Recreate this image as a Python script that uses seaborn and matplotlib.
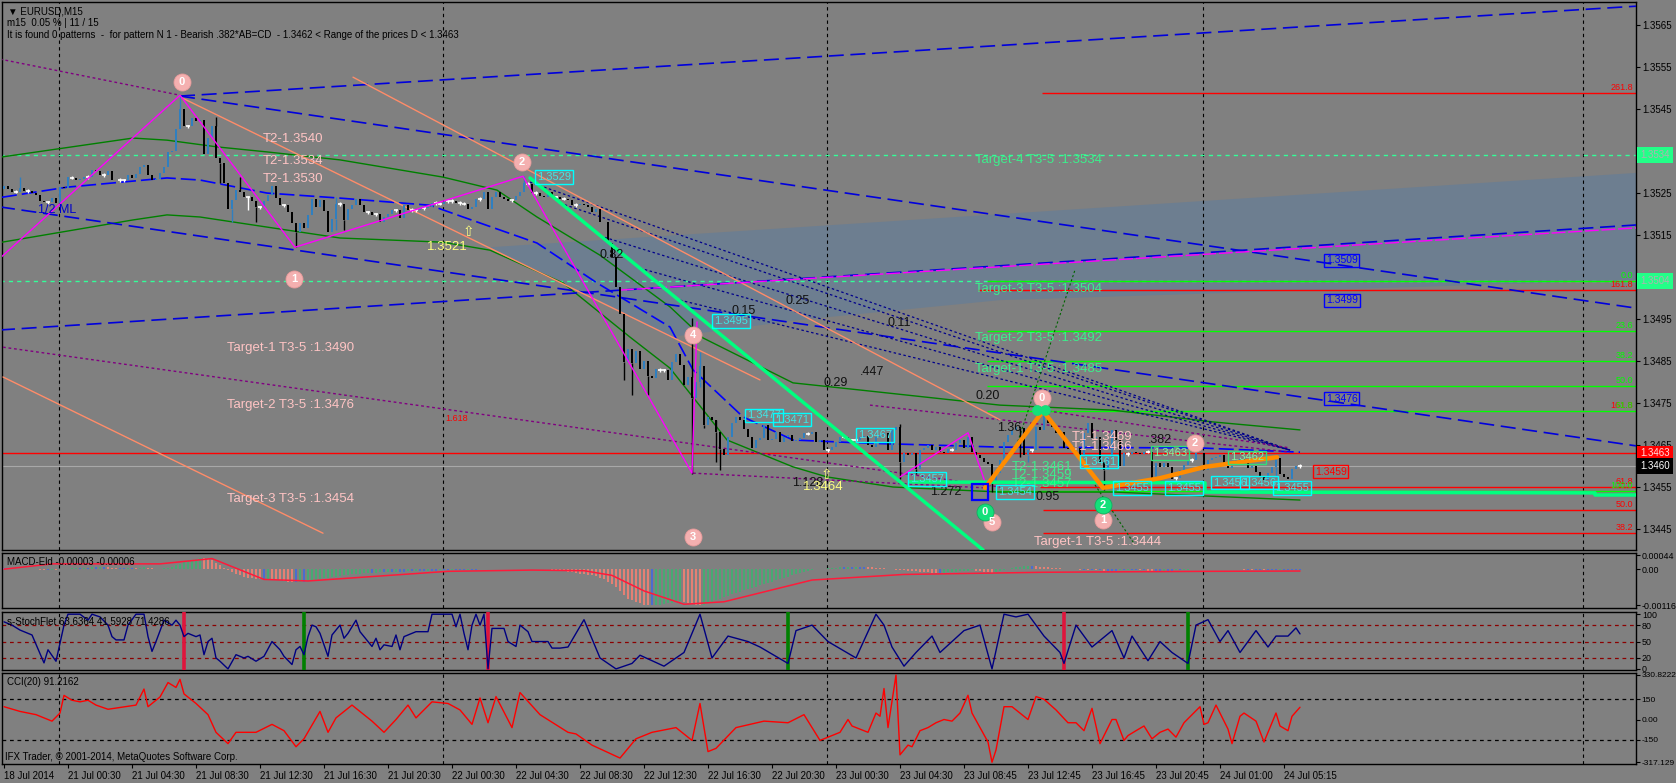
import matplotlib
matplotlib.use("Agg")
import matplotlib.pyplot as plt
import matplotlib.transforms as mtransforms
from matplotlib.patches import Rectangle, Polygon
from matplotlib.ticker import FormatStrFormatter
import seaborn as sns
import numpy as np

sns.set_theme(style="dark")
plt.rcParams['font.family'] = ['Liberation Sans', 'DejaVu Sans']
plt.rcParams['axes.unicode_minus'] = False

W, H = 1676, 783
BG = '#808080'

# ---------------- price data: EURUSD M15 closes ----------------
first_open = 1.35260
closes = [
    1.35268, 1.35260, 1.35253, 1.35253, 1.35262, 1.35254, 1.35255, 1.35250, 1.35246, 1.35230,
    1.35228, 1.35228, 1.35239, 1.35226, 1.35264, 1.35261, 1.35288, 1.35287, 1.35281, 1.35283,
    1.35289, 1.35288, 1.35305, 1.35303, 1.35294, 1.35293, 1.35303, 1.35282, 1.35280, 1.35281,
    1.35280, 1.35293, 1.35285, 1.35296, 1.35313, 1.35316, 1.35292, 1.35282, 1.35284, 1.35297,
    1.35312, 1.35348, 1.35351, 1.35403, 1.35450, 1.35410, 1.35409, 1.35428, 1.35421, 1.35425,
    1.35342, 1.35380, 1.35410, 1.35334, 1.35322, 1.35274, 1.35212, 1.35234, 1.35258, 1.35252,
    1.35241, 1.35240, 1.35231, 1.35217, 1.35216, 1.35230, 1.35246, 1.35266, 1.35238, 1.35222,
    1.35221, 1.35204, 1.35178, 1.35158, 1.35178, 1.35166, 1.35197, 1.35237, 1.35216, 1.35234,
    1.35208, 1.35158, 1.35188, 1.35223, 1.35224, 1.35186, 1.35213, 1.35221, 1.35237, 1.35222,
    1.35205, 1.35204, 1.35198, 1.35199, 1.35182, 1.35194, 1.35199, 1.35210, 1.35209, 1.35190,
    1.35221, 1.35209, 1.35210, 1.35209, 1.35213, 1.35214, 1.35218, 1.35227, 1.35226, 1.35225,
    1.35229, 1.35230, 1.35231, 1.35226, 1.35226, 1.35225, 1.35213, 1.35218, 1.35237, 1.35236,
    1.35253, 1.35213, 1.35241, 1.35253, 1.35241, 1.35237, 1.35232, 1.35233, 1.35244, 1.35253,
    1.35273, 1.35272, 1.35249, 1.35250, 1.35244, 1.35241, 1.35252, 1.35241, 1.35240, 1.35236,
    1.35237, 1.35233, 1.35221, 1.35222, 1.35224, 1.35221, 1.35218, 1.35205, 1.35211, 1.35182,
    1.35180, 1.35130, 1.35098, 1.35027, 1.34963, 1.34848, 1.34878, 1.34846, 1.34874, 1.34830,
    1.34850, 1.34814, 1.34810, 1.34830, 1.34829, 1.34828, 1.34805, 1.34848, 1.34866, 1.34840,
    1.34793, 1.34813, 1.34761, 1.34800, 1.34837, 1.34698, 1.34717, 1.34710, 1.34682, 1.34640,
    1.34626, 1.34670, 1.34702, 1.34717, 1.34710, 1.34688, 1.34670, 1.34642, 1.34662, 1.34666,
    1.34698, 1.34662, 1.34664, 1.34682, 1.34658, 1.34670, 1.34674, 1.34660, 1.34662, 1.34666,
    1.34678, 1.34677, 1.34682, 1.34658, 1.34662, 1.34638, 1.34637, 1.34646, 1.34658, 1.34670,
    1.34670, 1.34662, 1.34661, 1.34662, 1.34668, 1.34672, 1.34650, 1.34646, 1.34670, 1.34674,
    1.34678, 1.34638, 1.34686, 1.34692, 1.34610, 1.34630, 1.34626, 1.34630, 1.34594, 1.34638,
    1.34642, 1.34650, 1.34638, 1.34646, 1.34634, 1.34630, 1.34640, 1.34639, 1.34654, 1.34662,
    1.34642, 1.34670, 1.34634, 1.34626, 1.34618, 1.34610, 1.34604, 1.34560, 1.34583, 1.34614,
    1.34658, 1.34674, 1.34686, 1.34694, 1.34690, 1.34626, 1.34638, 1.34637, 1.34694, 1.34686,
    1.34725, 1.34702, 1.34694, 1.34678, 1.34682, 1.34642, 1.34640, 1.34645, 1.34642, 1.34626,
    1.34678, 1.34702, 1.34666, 1.34670, 1.34610, 1.34590, 1.34622, 1.34685, 1.34662, 1.34600,
    1.34630, 1.34629, 1.34634, 1.34630, 1.34628, 1.34634, 1.34634, 1.34563, 1.34606, 1.34598,
    1.34606, 1.34597, 1.34570, 1.34571, 1.34590, 1.34602, 1.34615, 1.34614, 1.34630, 1.34632,
    1.34590, 1.34614, 1.34618, 1.34621, 1.34626, 1.34599, 1.34595, 1.34611, 1.34615, 1.34617,
    1.34614, 1.34595, 1.34600, 1.34585, 1.34575, 1.34567, 1.34584, 1.34598, 1.34618, 1.34580,
    1.34575, 1.34570, 1.34594, 1.34600, 1.34600,
]
# visible wick extremes (bar index -> price)
wick_high = {4: 1.35289, 44: 1.35483, 53: 1.35432, 59: 1.35289, 63: 1.35229, 83: 1.35241,
             130: 1.35290, 172: 1.34952, 174: 1.34872, 178: 1.34686, 224: 1.34701,
             254: 1.34690, 261: 1.34729, 318: 1.34626}
wick_low = {54: 1.35273, 57: 1.35182, 61: 1.35210, 63: 1.35182, 73: 1.35122, 83: 1.35162,
            85: 1.35162, 155: 1.34805, 157: 1.34769, 161: 1.34769, 172: 1.34582, 174: 1.34789,
            175: 1.34690, 178: 1.34610, 179: 1.34590, 224: 1.34570, 228: 1.34582, 247: 1.34539,
            254: 1.34622, 256: 1.34610, 275: 1.34543, 287: 1.34559, 318: 1.34575}

time_ticks = [0, 16, 32, 48, 64, 80, 96, 112, 128, 144, 160, 176, 192, 208, 224, 240, 256,
              272, 288, 304, 320]
time_labels = ['18 Jul 2014', '21 Jul 00:30', '21 Jul 04:30', '21 Jul 08:30', '21 Jul 12:30',
               '21 Jul 16:30', '21 Jul 20:30', '22 Jul 00:30', '22 Jul 04:30', '22 Jul 08:30',
               '22 Jul 12:30', '22 Jul 16:30', '22 Jul 20:30', '23 Jul 00:30', '23 Jul 04:30',
               '23 Jul 08:45', '23 Jul 12:45', '23 Jul 16:45', '23 Jul 20:45', '24 Jul 01:00',
               '24 Jul 05:15']
day_breaks = [13.75, 109.75, 205.75, 299.75, 394.75]
price_ticks = [1.3445, 1.3455, 1.3465, 1.3475, 1.3485, 1.3495, 1.3505, 1.3515, 1.3525,
               1.3535, 1.3545, 1.3555, 1.3565]

# ---------------- indicators ----------------
macd_hist = [  # units of 1e-5
    3, 2, 2, 1, 2, 1, 1, 0, -1, -2, -3, -3, -2, -3,
    -1, 0, 2, 3, 4, 4, 5, 5, 6, 6, 7, 7, 6, 5, 4, 4, 4, 5, 5, 4, 5, 6, 5, 3, 2, 2, 3, 5,
    8, 12, 18, 24, 28, 31, 34, 36, 35, 32, 28,
    20, 12, 4, -4, -10, -16, -20, -24, -27, -30, -32,
    -33, -33, -32, -33, -34,
    -36, -38, -40, -41, -41, -40, -40, -39,
    -37, -36,
    -33, -30, -28, -26, -24, -22, -20, -18, -16, -15,
    -14, -13, -12, -12, -11, -10, -10, -9, -9, -8, -8, -8,
    -7, -7, -6, -6, -6, -5, -5, -5, -4, -4, -4, -3, -3, -3, -3, -2, -2, -2, -1, -1,
    -1, -1, -1, 0, 0, 1, 1, 1, 2, 2, 2, 2, 1, 1, 0, -1, -2, -3, -4, -6,
    -8, -10, -12, -14, -16, -18, -20, -23, -27, -32,
    -40, -48, -58, -70, -84, -95, -100, -106, -110, -114,
    -116, -116, -115, -114, -112, -110, -108, -105, -104, -106, -110, -112, -115, -116, -114,
    -110, -105, -100, -95, -90, -85, -80, -76, -72, -68, -64, -60, -56, -52, -48, -44, -40,
    -36, -32, -28, -24, -20, -16, -12, -9, -6, -3,
    -1, 1, 2, 3, 4, 5, 6, 6, 7, 7, 8, 8, 8, 7, 6, 5, 4, 3, 2, 0, -2, -3, -4, -5, -6, -7, -8, -9,
    -10, -11, -12, -12, -11, -10, -9, -8, -7, -6, -5, -4, -5, -6, -8, -10, -11, -9, -6, -3,
    0, 3, 6, 8, 9, 10, 10, 9, 8, 7,
    6, 5, 4, 3, 2, 1, 0, -1, -2, -2, -3, -3, -4, -4, -5, -5, -5, -5, -4, -4, -3, -3, -3, -4,
    -4, -5, -6, -6, -6, -5,
    -5, -5, -4, -4, -3, -2, -1, 0, 1, 1, 2, 2, 2, 1, 1, 0, 0, -1, -1, -2, -2, -3, -3, -3, -4,
    -4, -4, -4, -3, -3, -3, -3, -3, -3,
]
macd_sig_bar = [0, 12, 39, 52, 65, 76, 111, 132, 145, 152, 160, 170, 180, 202, 225, 260, 300, 324]
macd_sig_val = [0, 17, 17, 34, -33, -38, -7, -3, -5, -20, -70, -113, -105, -35, -17, -10, -7, -6]

stoch_bar = [0, 2, 4, 7, 10, 11, 13, 14, 15, 16, 19, 21, 22, 24, 26, 27, 28, 30, 31, 33, 35, 36,
             37, 38, 40, 42, 43, 44, 45, 46, 48, 49, 50, 51, 52, 53, 54, 56, 58, 60, 61, 63, 65,
             67, 69, 70, 72, 73, 74, 75, 76, 77, 78, 79, 81, 82, 84, 85, 86, 88, 89, 91, 92, 93,
             94, 95, 97, 98, 99, 100, 103, 106, 107, 112, 113, 114, 115, 116, 117, 118, 119,
             120, 121, 122, 125, 126, 128, 129, 131, 132, 136, 137, 139, 141, 145, 149, 153,
             157, 159, 165, 170, 174, 177, 181, 186, 189, 196, 198, 202, 206, 213, 218, 220,
             222, 225, 228, 232, 234, 240, 244, 247, 250, 253, 256, 260, 264, 265, 268, 272,
             277, 280, 282, 286, 289, 292, 296, 298, 301, 304, 306, 309, 313, 316, 318, 321,
             323, 324]
stoch_val = [86, 80, 71, 62, 11, 35, 14, 47, 80, 100, 100, 89, 100, 95, 80, 59, 53, 53, 80, 100,
             100, 59, 32, 50, 89, 80, 89, 80, 59, 65, 59, 62, 26, 50, 56, 20, 14, 0, 26, 20, 23,
             14, 23, 50, 35, 23, 8, 35, 41, 26, 59, 80, 77, 65, 23, 62, 80, 56, 65, 89, 68, 50,
             41, 56, 35, 44, 41, 62, 35, 59, 68, 68, 100, 100, 77, 100, 65, 35, 80, 100, 80, 100,
             0, 74, 74, 50, 41, 80, 68, 50, 50, 38, 38, 40, 90, 20, 0, 10, 25, 5, 30, 100, 20,
             60, 50, 40, 10, 70, 80, 50, 20, 100, 80, 40, 5, 30, 60, 30, 70, 80, 0, 100, 95,
             100, 60, 30, 10, 80, 40, 70, 20, 60, 15, 50, 30, 10, 80, 90, 50, 70, 30, 70, 40,
             60, 60, 75, 64]
stoch_red_marks = [45, 121, 265]
stoch_green_marks = [75, 196, 296]

cci_bar = [0, 4, 8, 12, 14, 15, 17, 19, 21, 23, 26, 33, 35, 36, 39, 41, 43, 44, 45, 48, 51, 53,
           56, 58, 63, 67, 70, 73, 75, 79, 81, 83, 87, 92, 95, 98, 101, 103, 107, 111, 114, 117,
           119, 121, 123, 127, 129, 134, 141, 143, 147, 154, 158, 162, 168, 172, 174, 176, 178,
           183, 190, 196, 200, 204, 206, 209, 211, 212, 216, 218, 219, 220, 221, 223, 224, 226,
           227, 229, 231, 233, 235, 237, 239, 241, 242, 246, 247, 248, 250, 252, 256, 258, 260,
           263, 266, 268, 270, 272, 274, 277, 278, 280, 281, 283, 285, 287, 289, 291, 293, 295,
           299, 300, 301, 303, 306, 307, 309, 310, 313, 315, 318, 319, 321, 322, 324]
cci_val = [95, 60, 36, -12, 48, 179, 143, 131, 143, 107, 76, 107, 226, 95, 167, 274, 238, 298,
           190, 119, 36, -95, -179, -95, -95, -36, -83, -202, -143, 60, -95, 12, 107, -12, -95,
           0, 107, 12, 131, 119, 71, -36, 160, -24, 170, -60, 200, 36, -95, -107, -190, -286,
           -143, -95, -60, -155, 119, -238, -214, -60, -12, -24, 36, -155, -131, -95, 0, -48,
           -95, 48, 24, 230, -60, 330, -262, -190, -202, -83, -60, -24, 0, -12, 48, 180, 48,
           -167, -317, -226, 95, 95, 0, 170, 150, 71, -24, -24, -83, 83, -179, 0, 0, -155,
           -119, -83, -48, -143, -95, -71, -131, -24, 95, -36, -24, 107, -71, -179, 24, 48,
           -12, -167, 48, -48, -83, 24, 91]

# ---------------- chart objects (bar index, price) ----------------
ma_up_bar = [-0.5, 32.25, 40.75, 53.25, 65.75, 84, 109.75, 123.25, 133.25, 149, 166.5, 174.75,
             197.25, 214, 249, 277.25, 302.25, 324]
ma_up_val = [1.35336, 1.35381, 1.35376, 1.35360, 1.35348, 1.35329, 1.35288, 1.35257, 1.35193,
             1.35102, 1.34979, 1.34905, 1.34798, 1.34781, 1.34745, 1.34733, 1.34705, 1.34686]
ma_dn_bar = [-0.5, 32.25, 40.75, 49, 65.75, 84, 109.75, 121.5, 139.75, 156.5, 166.5, 180.75,
             197.25, 205.75, 222.25, 249, 277.25, 324]
ma_dn_val = [1.35133, 1.35186, 1.35198, 1.35193, 1.35169, 1.35143, 1.35133, 1.35114, 1.35036,
             1.34907, 1.34833, 1.34662, 1.34598, 1.34574, 1.34550, 1.34538, 1.34538, 1.34519]
ma_blue_bar = [-0.5, 15.75, 40.75, 49, 65.75, 84, 106.5, 114.75, 133.25, 148.25, 166.5, 172.25,
               184.75, 197.25, 214, 249, 299, 324]
ma_blue_val = [1.35240, 1.35264, 1.35286, 1.35281, 1.35250, 1.35238, 1.35221, 1.35193, 1.35131,
               1.35036, 1.34931, 1.34829, 1.34717, 1.34662, 1.34655, 1.34645, 1.34643, 1.34633]

blue_lines = [((44, 1.35481), (408, 1.35695)), ((44, 1.35481), (408, 1.34976)),
              ((-1, 1.35217), (408, 1.34648)), ((-1, 1.34924), (408, 1.35174))]
fan_starts = [(131.5, 1.35276), (139, 1.35226), (149, 1.35148), (159, 1.35071), (169, 1.34995)]
fan_end = (321.5, 1.34638)
purple_lines = [((-0.25, 1.34883), (249, 1.34550)), ((-1, 1.35569), (44, 1.35483)),
                ((172.25, 1.34583), (245.25, 1.34548)), ((216.5, 1.34745), (321.5, 1.34633)),
                ((259.75, 1.34733), (321.5, 1.34643))]
salmon_lines = [((-0.25, 1.34812), (79.75, 1.34440)), ((44, 1.35479), (189, 1.34805)),
                ((87.25, 1.35526), (249, 1.34710))]
zigzag_bar = [-1, 44, 72.75, 129.75, 172, 173.25]
zigzag_val = [1.35095, 1.35483, 1.35121, 1.35290, 1.34583, 1.34943]
zigzag2_bar = [224, 241, 245.75]
zigzag2_val = [1.34574, 1.34679, 1.34548]
magenta_line = ((154, 1.35019), (408, 1.35167))
orange_bar = [245.25, 259.75, 274.75, 289, 300.25, 318.25]
orange_val = [1.34548, 1.34731, 1.34548, 1.34571, 1.34598, 1.34621]
spring_line = ((131.5, 1.35286), (244.75, 1.34400))
spring_h_bar = [226.5, 300.25, 300.25, 397.75, 397.75, 408]
spring_h_val = [1.34562, 1.34560, 1.34538, 1.34536, 1.34531, 1.34531]
dkgreen_lines = [((252.75, 1.34638), (267.75, 1.35067)), ((272.75, 1.34555), (282.75, 1.34412))]
shade_bar = [121.5, 408, 408, 249, 199, 166.5]
shade_val = [1.35121, 1.35298, 1.35043, 1.34995, 1.34948, 1.34907]

# horizontal levels: price, start bar, colour, style, width
levels = [(1.3463, -1, '#ff0000', '-', 1.0), (1.3460, -1, '#a8a8a8', '-', 0.8),
          (1.3534, -1, '#33ff99', (0, (3, 3)), 1.0), (1.3504, -1, '#33ff99', (0, (3, 3)), 1.0),
          (1.35488, 259.5, '#ff0000', '-', 1.0), (1.35019, 243.5, '#ff0000', '-', 1.0),
          (1.3455, 259.0, '#ff0000', '-', 1.0), (1.34495, 259.75, '#ff0000', '-', 1.0),
          (1.3444, 259.75, '#ff0000', '-', 1.0),
          (1.3504, 245.75, '#00ff00', '-', 1.0), (1.34921, 245.75, '#00ff00', '-', 1.0),
          (1.3485, 245.75, '#00ff00', '-', 1.0), (1.3479, 245.75, '#00ff00', '-', 1.0),
          (1.34731, 245.75, '#00ff00', '-', 1.0), (1.3454, 245.75, '#00ff00', '-', 1.0)]
fib_texts = [('261.8', 1.35488, '#ff0000'), ('161.8', 1.35019, '#ff0000'), ('0.0', 1.3504, '#00ff00'),
             ('23.6', 1.34921, '#00ff00'), ('38.2', 1.3485, '#00ff00'), ('50.0', 1.3479, '#00ff00'),
             ('161.8', 1.34731, '#ff0000'), ('61.8', 1.34731, '#00ff00'), ('61.8', 1.3455, '#ff0000'),
             ('100.0', 1.3454, '#00ff00'), ('50.0', 1.34495, '#ff0000'), ('38.2', 1.3444, '#ff0000')]

pink_texts = [('T2-1.3540', 64.75, 1.35379), ('T2-1.3534', 64.75, 1.35326), ('T2-1.3530', 64.75, 1.35283),
              ('Target-1 T3-5 :1.3490', 55.75, 1.34881), ('Target-2 T3-5 :1.3476', 55.75, 1.34745),
              ('Target-3 T3-5 :1.3454', 55.75, 1.34521), ('Target-1 T3-5 :1.3444', 257.5, 1.34419)]
green_texts = [('Target-4 T3-5 :1.3534', 242.75, 1.35329), ('Target-3 T3-5 :1.3504', 242.75, 1.35021),
               ('Target-2 T3-5 :1.3492', 242.75, 1.34905), ('Target-1 T3-5 :1.3485', 242.75, 1.34831)]
small_pink = [('T1-1.3469', 267, 1.34669), ('T1-1.3466', 267, 1.34645)]
small_green = [('T2-1.3461', 252, 1.34598), ('T2-1.3459', 252, 1.34579), ('T2-1.3457', 252, 1.34557)]
black_texts = [('0.82', 149, 1.35102), ('0.15', 182, 1.34969), ('0.25', 195.5, 1.34993),
               ('0.11', 220.75, 1.34940), ('0.29', 204.75, 1.34798), ('.447', 214, 1.34824),
               ('0.20', 242.75, 1.34767), ('1.36', 248.25, 1.34690), ('1.272', 231.5, 1.34538),
               ('0.95', 258, 1.34526), ('.382', 286, 1.34662), ('1.128', 197, 1.34560)]
cyan_boxes = [('1.3529', 133.25, 1.35288), ('1.3495', 177.5, 1.34945), ('1.3477', 185.75, 1.34721),
              ('1.3471', 192.75, 1.34710), ('1.3467', 213.5, 1.34674), ('1.3457', 226.5, 1.34569),
              ('1.3454', 248.5, 1.34538), ('1.3461', 269.5, 1.34610), ('1.3455', 277.75, 1.34548),
              ('1.3455', 290.75, 1.34548), ('1.3456', 302.25, 1.34560), ('1.3456', 309.5, 1.34560),
              ('1.3455', 317.75, 1.34548)]
green_boxes = [('1.3463', 287.25, 1.34631), ('1.3462', 306.5, 1.34621)]
blue_boxes = [('1.3509', 330.5, 1.35090), ('1.3499', 330.5, 1.34995), ('1.3476', 330.5, 1.34760)]
pink_circles = [('0', 44.5, 1.35514), ('1', 72.5, 1.35045), ('2', 129.5, 1.35324), ('3', 172.25, 1.34431),
                ('4', 172.25, 1.34912), ('5', 247, 1.34466), ('0', 259.5, 1.34762), ('1', 274.75, 1.34471),
                ('2', 297.75, 1.34655)]
green_circles = [('0', 245.25, 1.34490), ('2', 274.75, 1.34507)]
axis_tags = [('1.3534', 1.3534, '#22ff88', '#b0b0b0'), ('1.3504', 1.3504, '#22ff88', '#b0b0b0'),
             ('1.3463', 1.3463, '#ff0000', '#ffe0e0'), ('1.3460', 1.3460, '#000000', '#ffffff')]

# ---------------- figure ----------------
fig = plt.figure(figsize=(W / 100, H / 100), dpi=100, facecolor=BG)


def panel(top, bottom, lsize=7):
    ax = fig.add_axes([2 / W, 1 - bottom / H, 1634 / W, (bottom - top) / H])
    ax.set_facecolor(BG)
    for s in ax.spines.values():
        s.set_visible(True)
        s.set_color('black')
        s.set_linewidth(1.0)
    ax.set_xlim(-0.5, 408)
    ax.yaxis.tick_right()
    ax.tick_params(axis='y', which='both', right=True, left=False, length=3, width=0.8,
                   color='black', labelsize=lsize, labelcolor='black', pad=1.2, direction='out')
    ax.tick_params(axis='x', bottom=False, labelbottom=False)
    ax.grid(False)
    for d in day_breaks:
        ax.axvline(d, color='black', lw=0.8, ls=(0, (3, 3)), zorder=2)
    return ax


ax = panel(2, 550)
ax_macd = panel(553, 608, 6.4)
ax_sto = panel(612, 670, 6.4)
ax_cci = panel(673, 764, 6.0)

# --- main chart ---
ax.set_ylim(1.34400, 1.35705)
ax.set_yticks(price_ticks)
ax.yaxis.set_major_formatter(FormatStrFormatter('%.4f'))

ax.add_patch(Polygon(list(zip(shade_bar, shade_val)), closed=True, fc='#6d7e90', ec='none', zorder=1))

for p, x0, colr, ls, lw in levels:
    ax.hlines(p, x0, 408, colors=colr, linestyles=ls, lw=lw, zorder=2)

sns.lineplot(x=ma_up_bar, y=ma_up_val, ax=ax, color='#008000', linewidth=1, estimator=None, sort=False, zorder=3)
sns.lineplot(x=ma_dn_bar, y=ma_dn_val, ax=ax, color='#008000', linewidth=1, estimator=None, sort=False, zorder=3)
sns.lineplot(x=ma_blue_bar, y=ma_blue_val, ax=ax, color='#0000ff', linewidth=1.2, estimator=None,
             sort=False, zorder=3).lines[-1].set_linestyle((0, (9, 3)))

for (x0, y0), (x1, y1) in blue_lines:
    ax.plot([x0, x1], [y0, y1], color='#0000dd', lw=1.2, ls=(0, (9, 4)), zorder=3)
for (x0, y0) in fan_starts:
    ax.plot([x0, fan_end[0]], [y0, fan_end[1]], color='#00008b', lw=0.9, ls=(0, (2, 2)), zorder=3)
for (x0, y0), (x1, y1) in purple_lines:
    ax.plot([x0, x1], [y0, y1], color='#800080', lw=1.0, ls=(0, (2, 2)), zorder=3)
for (x0, y0), (x1, y1) in salmon_lines:
    ax.plot([x0, x1], [y0, y1], color='#ff8c69', lw=1.0, zorder=3)
for (x0, y0), (x1, y1) in dkgreen_lines:
    ax.plot([x0, x1], [y0, y1], color='#006400', lw=0.8, ls=(0, (2, 2)), zorder=3)
ax.plot(zigzag_bar, zigzag_val, color='#ff00ff', lw=1.0, zorder=6)
ax.plot(zigzag2_bar, zigzag2_val, color='#ff00ff', lw=1.0, zorder=6)
ax.plot([magenta_line[0][0], magenta_line[1][0]], [magenta_line[0][1], magenta_line[1][1]],
        color='#ff00ff', lw=1.0, ls=(0, (10, 2)), zorder=3)

# candles
n = len(closes)
idx = np.arange(n)
c = np.array(closes)
o = np.array([first_open] + closes[:-1])
doji = np.abs(c - o) < 0.000015
up = (c > o) & ~doji
col = np.where(doji, '#ffffff', np.where(up, '#2f7fc0', '#000000'))
lo_b = np.minimum(o, c)
hi_b = np.maximum(o, c)
for i, hv in wick_high.items():
    ax.vlines(i, hi_b[i], hv, colors=col[i], lw=1, zorder=4)
for i, lv in wick_low.items():
    ax.vlines(i, lv, lo_b[i], colors=col[i], lw=1, zorder=4)
ax.bar(idx[~doji], (hi_b - lo_b)[~doji], bottom=lo_b[~doji], width=0.7, color=col[~doji],
       linewidth=0, zorder=4)
ax.hlines(c[doji], idx[doji] - 0.4, idx[doji] + 0.4, colors='#ffffff', lw=1.2, zorder=4)
ax.vlines(idx[doji], c[doji] - 0.00004, c[doji] + 0.00004, colors='#ffffff', lw=1, zorder=4)

ax.plot([spring_line[0][0], spring_line[1][0]], [spring_line[0][1], spring_line[1][1]],
        color='#00ff7f', lw=2.5, zorder=6)
ax.plot(spring_h_bar, spring_h_val, color='#00ff7f', lw=2.5, zorder=6)
ax.plot(orange_bar, orange_val, color='#ff8c00', lw=3.2, zorder=6, solid_joinstyle='round')
ax.add_patch(Rectangle((242, 1.34519), 4, 0.00038, fill=False, ec='#0000ff', lw=1.6, zorder=7))

# texts
for s, x, y in pink_texts:
    ax.text(x, y, s, color='#ffc4c4', fontsize=9.5, va='center', ha='left', zorder=8)
for s, x, y in green_texts:
    ax.text(x, y, s, color='#3cf08c', fontsize=9.5, va='center', ha='left', zorder=8)
for s, x, y in small_pink:
    ax.text(x, y, s, color='#ffc4c4', fontsize=9.5, va='center', ha='left', zorder=8)
for s, x, y in small_green:
    ax.text(x, y, s, color='#3cf08c', fontsize=9.5, va='center', ha='left', zorder=8)
for s, x, y in black_texts:
    ax.text(x, y, s, color='#111111', fontsize=9, va='center', ha='left', zorder=8)
ax.text(8.5, 1.35210, '1/2 ML', color='#0000cd', fontsize=9, va='center', ha='left', zorder=8)
ax.text(110.75, 1.35121, '1.3521', color='#ffff80', fontsize=9.5, va='center', ha='center', zorder=8)
ax.text(116, 1.35157, '\u21e7', color='#ffff80', fontsize=10, va='center', ha='center', zorder=8)
ax.text(199.75, 1.34550, '1.3464', color='#ffff80', fontsize=9.5, va='center', ha='left', zorder=9)
ax.text(205.5, 1.34579, '\u21e7', color='#ffff80', fontsize=10, va='center', ha='center', zorder=9)
ax.text(110.25, 1.34714, '1.618', color='#ff0000', fontsize=6.5, va='center', ha='left', zorder=8)
for s, y, colr in fib_texts:
    ax.text(407.3, y + 0.00002, s, color=colr, fontsize=6.5, va='bottom', ha='right', zorder=8)

box_kw = dict(boxstyle='square,pad=0.15', fc='none', lw=1)
for s, x, y in cyan_boxes:
    ax.text(x, y, s, color='#40e6e6', fontsize=8, va='center', ha='left', zorder=9,
            bbox=dict(box_kw, ec='#00ffff'))
for s, x, y in green_boxes:
    ax.text(x, y, s, color='#80f8a0', fontsize=8, va='center', ha='left', zorder=9,
            bbox=dict(box_kw, ec='#33dd77'))
for s, x, y in blue_boxes:
    ax.text(x, y, s, color='#0000ff', fontsize=7.5, va='center', ha='left', zorder=9,
            bbox=dict(box_kw, ec='#0000ff'))
ax.text(327.75, 1.34586, '1.3459', color='#ff0000', fontsize=7.5, va='center', ha='left', zorder=9,
        bbox=dict(box_kw, ec='#ff0000'))

for s, x, y in pink_circles:
    ax.scatter([x], [y], s=150, color='#f4b0b0', edgecolors='#e89a9a', linewidths=0.6, zorder=10)
    ax.text(x, y, s, color='white', fontsize=8, fontweight='bold', ha='center', va='center', zorder=11)
for s, x, y in green_circles:
    ax.scatter([x], [y], s=150, color='#14e07a', edgecolors='#0fb060', linewidths=0.6, zorder=10)
    ax.text(x, y, s, color='white', fontsize=8, fontweight='bold', ha='center', va='center', zorder=11)
ax.scatter([258.25, 260.25], [1.34733, 1.34733], s=45, color='#14e07a', zorder=10)

tr = mtransforms.blended_transform_factory(ax.transAxes, ax.transData)
for s, y, fc, tc in axis_tags:
    ax.text(1.0025, y, s, transform=tr, color=tc, fontsize=7, ha='left', va='center', zorder=12,
            clip_on=False, bbox=dict(boxstyle='square,pad=0.3', fc=fc, ec='none'))

# --- MACD ---
ax_macd.set_ylim(-0.00125, 0.00052)
hist = np.array(macd_hist) * 1e-5
dh = np.diff(np.concatenate([[hist[0]], hist]))
hcol = np.where(dh > 0, '#3cb371', np.where(dh < 0, '#fa8072', '#4169e1'))
ax_macd.vlines(np.arange(len(hist)), 0, hist, colors=hcol, lw=1.2, zorder=3)
sns.lineplot(x=macd_sig_bar, y=np.array(macd_sig_val) * 1e-5, ax=ax_macd, color='#ff1a3a',
             linewidth=1.1, estimator=None, zorder=4)
ax_macd.set_yticks([-0.00116, 0.0, 0.00044])
ax_macd.set_yticklabels(['-0.00116', '0.00', '0.00044'])

# --- Stochastic ---
ax_sto.set_ylim(-2, 104)
for lv in (20, 50, 80):
    ax_sto.axhline(lv, color='#8b0000', lw=0.9, ls=(0, (3, 3)), zorder=2)
ax_sto.vlines(stoch_red_marks, -2, 104, colors='#e0143c', lw=2.6, zorder=3)
ax_sto.vlines(stoch_green_marks, -2, 104, colors='#008000', lw=2.6, zorder=3)
sns.lineplot(x=stoch_bar, y=stoch_val, ax=ax_sto, color='#000080', linewidth=1, estimator=None, zorder=4)
ax_sto.set_yticks([0, 20, 50, 80, 100])
ax_sto.set_yticklabels(['0', '20', '50', '80', '100'])

# --- CCI ---
ax_cci.set_ylim(-330, 345)
for lv in (150, -150):
    ax_cci.axhline(lv, color='black', lw=0.9, ls=(0, (3, 3)), zorder=2)
sns.lineplot(x=cci_bar, y=cci_val, ax=ax_cci, color='#ff0000', linewidth=1, estimator=None, zorder=4)
ax_cci.set_yticks([-317.129, -150, 0, 150, 330.8222])
ax_cci.set_yticklabels(['-317.129', '-150', '0.00', '150', '330.8222'])
ax_cci.set_xticks(time_ticks)
ax_cci.set_xticklabels(time_labels, ha='left')
ax_cci.tick_params(axis='x', bottom=True, labelbottom=True, length=3, width=0.8, color='black',
                   labelsize=7, labelcolor='black', pad=2, direction='out')

for a in (ax, ax_macd, ax_sto, ax_cci):
    a.set_xlabel('')
    a.set_ylabel('')
    a.set_xlim(-0.5, 408)

# header / panel captions
fig.text(8 / W, 1 - 11 / H, '\u25bc EURUSD,M15', fontsize=7, va='center', color='black')
fig.text(7 / W, 1 - 23 / H, 'm15  0.05 % | 11 / 15', fontsize=7, va='center', color='black')
fig.text(7 / W, 1 - 35 / H, 'It is found 0 patterns  -  for pattern N 1 - Bearish .382*AB=CD  - 1.3462 < '
         'Range of the prices D < 1.3463', fontsize=7, va='center', color='black')
fig.text(7 / W, 1 - 562 / H, 'MACD-Eld -0.00003 -0.00006', fontsize=7, va='center', color='black')
fig.text(7 / W, 1 - 622 / H, 's-StochFlet 63.6364 41.5928 71.4286', fontsize=7, va='center', color='black')
fig.text(7 / W, 1 - 682 / H, 'CCI(20) 91.2162', fontsize=7, va='center', color='black')
fig.text(5 / W, 1 - 757 / H, 'IFX Trader, \u00a9 2001-2014, MetaQuotes Software Corp.', fontsize=7,
         va='center', color='black')

fig.savefig('out.png', dpi=100, facecolor=BG)
